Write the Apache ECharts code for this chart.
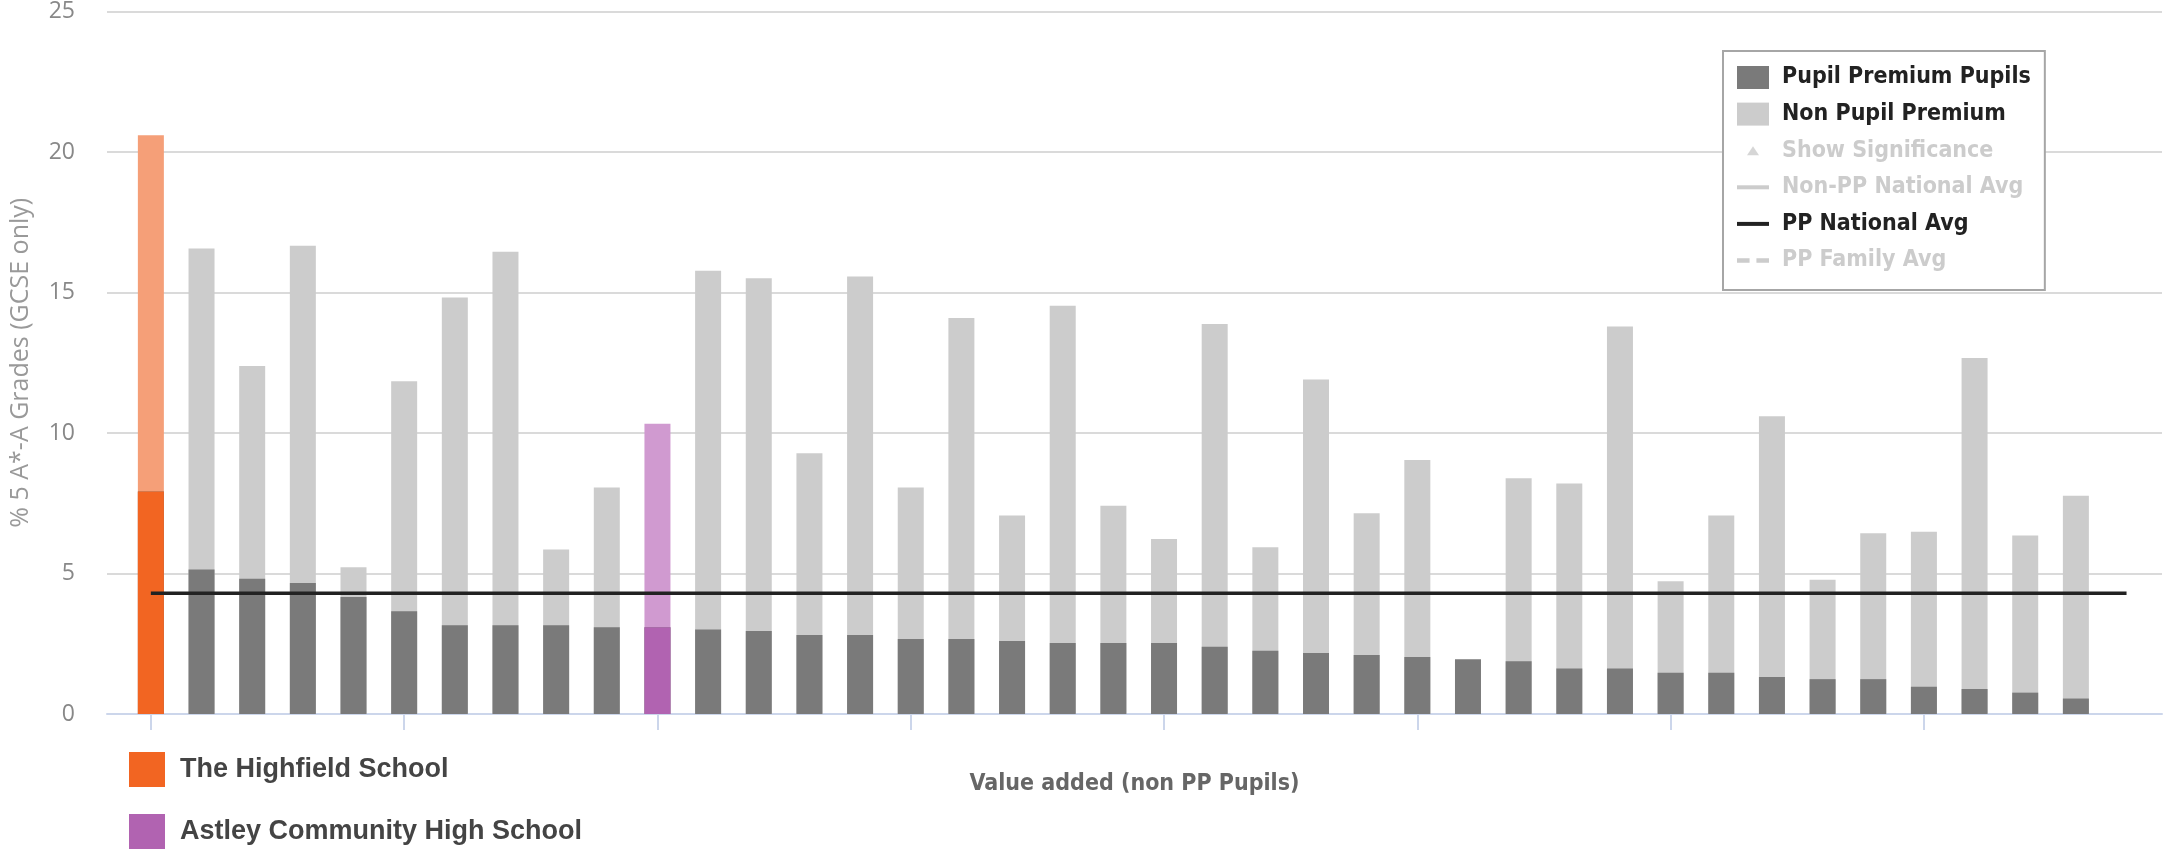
<!DOCTYPE html>
<html>
<head>
<meta charset="utf-8">
<title>Pupil Premium</title>
<script src="https://cdn.jsdelivr.net/npm/echarts@6/dist/echarts.min.js"></script>
<style>
  html, body { margin: 0; padding: 0; background: #fff; }
  #chart { width: 2166px; height: 850px; }
</style>
</head>
<body>
<div id="chart"></div>
<script>
// school order along the x axis (0 = left-most bar)
const schoolPos = [0,1,2,3,4,5,6,7,8,9,10,11,12,13,14,15,16,17,18,19,20,21,22,23,24,25,26,27,28,29,30,31,32,33,34,35,36,37,38];
// % 5 A*-A grades, pupil premium pupils
const ppPupils = [7.92,5.14,4.81,4.66,4.16,3.66,3.16,3.16,3.16,3.09,3.09,3.01,2.95,2.81,2.81,2.67,2.67,2.60,2.53,2.53,2.53,2.39,2.25,2.17,2.10,2.03,1.95,1.88,1.62,1.62,1.47,1.47,1.32,1.24,1.24,0.97,0.89,0.76,0.55];
// % 5 A*-A grades, non pupil premium pupils
const nonPpPupils = [20.6,16.57,12.38,16.66,5.22,11.84,14.82,16.45,5.85,8.06,10.33,15.77,15.51,9.28,15.57,8.06,14.09,7.06,14.53,7.41,6.23,13.88,5.93,11.9,7.14,9.04,null,8.39,8.2,13.79,4.72,7.06,10.6,4.78,6.43,6.49,12.67,6.35,7.77];
// highlighted schools
const highlightNames = ["The Highfield School", "Astley Community High School"];
const highlightPos = [0, 10];
// national average for PP pupils, drawn from first school to one past the last
const ppNationalAvg = [4.3, 4.3];
const avgRange = [0, schoolPos.length];
const yTicks = [0, 5, 10, 15, 20, 25];
const xTicks = [0, 5, 10, 15, 20, 25, 30, 35];

const hlDark = ["#f26522", "#b163b1"];
const hlLight = ["#f59f78", "#d09ad0"];

var chartDom = document.getElementById("chart");
var myChart = echarts.init(chartDom, null, { renderer: "canvas" });

const nonPpData = schoolPos.map(function (x, i) {
  var k = highlightPos.indexOf(x);
  if (nonPpPupils[i] == null) return [x, null];
  if (k >= 0) {
    return { value: [x, nonPpPupils[i]], itemStyle: { color: hlLight[k] } };
  }
  return [x, nonPpPupils[i]];
});
const ppData = schoolPos.map(function (x, i) {
  return [x, ppPupils[i]];
});
const hlSeries = highlightNames.map(function (name, k) {
  var x = highlightPos[k];
  return {
    name: name,
    type: "bar",
    barWidth: 26,
    barGap: "-100%",
    itemStyle: { color: hlDark[k] },
    data: [[x, ppPupils[schoolPos.indexOf(x)]]],
    z: 4,
  };
});

const condensed = "'DejaVu Sans Condensed', 'DejaVu Sans', sans-serif";
// flat line / dashed line icons for the legend
const lineIcon = "path://M0,0h32v4H0z";
const dashIcon = "path://M0,0h11v4H0zM17,0h11v4H17z";

let option = {
  animation: false,
  grid: {
    left: 102,
    right: 4,
    top: 10,
    bottom: 136,
  },
  xAxis: {
    type: "value",
    min: -0.866,
    max: 39.7,
    name: "Value added (non PP Pupils)",
    nameLocation: "middle",
    nameGap: 59,
    nameTextStyle: {
      fontFamily: condensed,
      fontWeight: "bold",
      fontSize: 23,
      color: "#666",
    },
    axisLine: { show: true, onZero: false, lineStyle: { color: "#ccd6eb", width: 2 } },
    axisTick: {
      show: true,
      customValues: xTicks,
      length: 16,
      lineStyle: { color: "#ccd6eb", width: 2 },
    },
    axisLabel: { show: false },
    splitLine: { show: false },
  },
  yAxis: {
    type: "value",
    min: yTicks[0],
    max: yTicks[yTicks.length - 1],
    interval: 5,
    name: "% 5 A*-A Grades (GCSE only)",
    nameLocation: "middle",
    nameGap: 74,
    nameTextStyle: {
      fontFamily: "'Open Sans', sans-serif",
      fontSize: 25,
      color: "#999",
    },
    axisLine: { show: false },
    axisTick: { show: false },
    axisLabel: {
      margin: 32,
      fontFamily: "'Open Sans', sans-serif",
      fontSize: 23,
      color: "#888",
    },
    splitLine: { lineStyle: { color: "#dadada", width: 2 } },
  },
  legend: [
    {
      orient: "vertical",
      left: 1723,
      top: 51,
      padding: [15, 14, 18, 14],
      itemWidth: 32,
      itemHeight: 23,
      itemGap: 13.6,
      backgroundColor: "#fff",
      borderColor: "#a6a6a6",
      borderWidth: 2,
      inactiveColor: "#ccc",
      textStyle: {
        fontFamily: condensed,
        fontWeight: "bold",
        fontSize: 23,
        color: "#222",
        padding: [0, 0, 0, 8],
      },
      data: [
        { name: "Pupil Premium Pupils", icon: "rect" },
        { name: "Non Pupil Premium", icon: "rect" },
        { name: "Show Significance", icon: "path://M0,0M32,23M16,7L22,16L10,16Z" },
        { name: "Non-PP National Avg", icon: lineIcon },
        { name: "PP National Avg", icon: lineIcon },
        { name: "PP Family Avg", icon: dashIcon },
      ],
      selected: {
        "Show Significance": false,
        "Non-PP National Avg": false,
        "PP Family Avg": false,
      },
    },
    {
      orient: "vertical",
      left: 129,
      top: 752,
      height: 98,
      padding: 0,
      itemWidth: 36,
      itemHeight: 35,
      itemGap: 27,
      selectedMode: false,
      textStyle: {
        fontFamily: "'Liberation Sans', Arial, sans-serif",
        fontWeight: "bold",
        fontSize: 27,
        color: "#444",
        padding: [0, 0, 0, 10],
      },
      data: [
        { name: highlightNames[0], icon: "rect" },
        { name: highlightNames[1], icon: "rect" },
      ],
    },
  ],
  series: [
    {
      name: "Non Pupil Premium",
      type: "bar",
      barWidth: 26,
      barGap: "-100%",
      itemStyle: { color: "#cccccc" },
      data: nonPpData,
      z: 2,
    },
    {
      name: "Pupil Premium Pupils",
      type: "bar",
      barWidth: 26,
      barGap: "-100%",
      itemStyle: { color: "#7a7a7a" },
      data: ppData,
      z: 3,
    },
    ...hlSeries,
    {
      name: "Show Significance",
      type: "scatter",
      symbol: "triangle",
      itemStyle: { color: "#888" },
      data: [],
    },
    {
      name: "Non-PP National Avg",
      type: "line",
      symbol: "none",
      itemStyle: { color: "#aaa" },
      lineStyle: { color: "#aaa", width: 3 },
      data: [],
    },
    {
      name: "PP National Avg",
      type: "line",
      symbol: "none",
      itemStyle: { color: "#222" },
      lineStyle: { color: "#222", width: 3.5 },
      data: avgRange.map(function (x, i) {
        return [x, ppNationalAvg[i]];
      }),
      z: 5,
    },
    {
      name: "PP Family Avg",
      type: "line",
      symbol: "none",
      itemStyle: { color: "#aaa" },
      lineStyle: { color: "#aaa", width: 3, type: "dashed" },
      data: [],
    },
  ],
};

myChart.setOption(option);
</script>
</body>
</html>
